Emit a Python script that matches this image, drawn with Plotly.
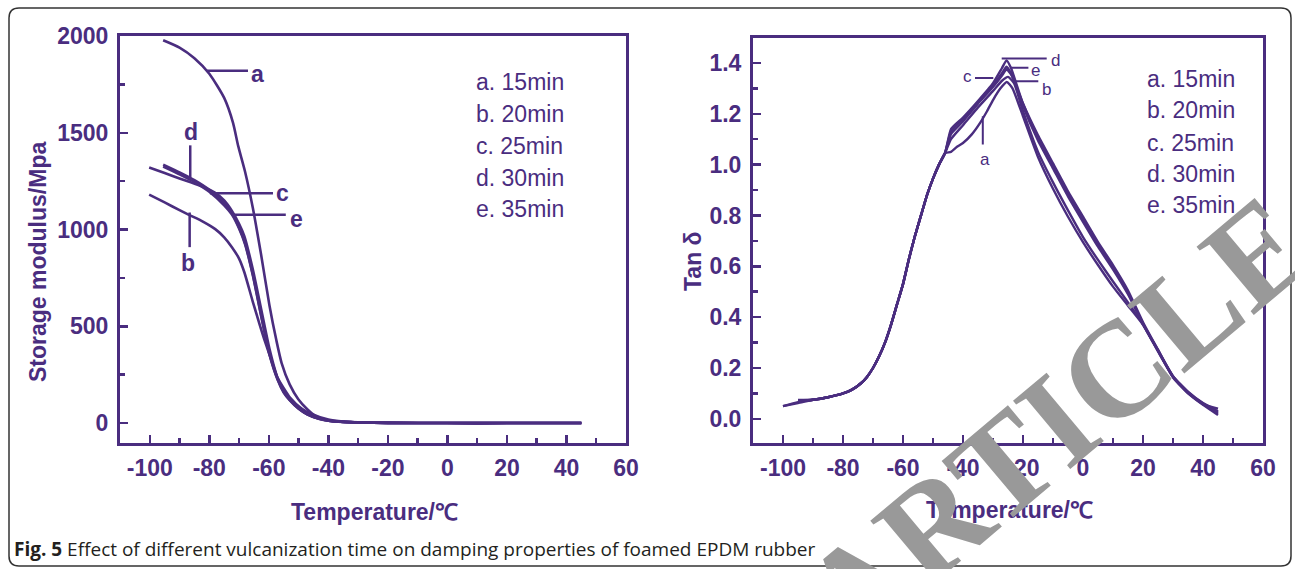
import plotly.graph_objects as go

PURPLE = "#4a2d7f"
W, H = 1295, 569

# ---------------- Storage modulus (left panel) ----------------
temp_mod_a = [-95.5, -90, -85, -80, -75, -72, -70.3, -68, -65.4, -62.6, -59.8, -57.5, -55.7, -53, -50.1, -47, -44.5, -40, -35, -30, -20, 0, 20, 45]
mod_a = [1978, 1940, 1885, 1805, 1680, 1550, 1432, 1300, 1114, 871, 609, 430, 310, 200, 123, 70, 39, 15, 6, 3, 1, 0, 0, 0]

temp_mod_b = [-100.2, -95, -90, -87, -82, -78, -75, -72.4, -70, -68.2, -65.4, -63, -61.3, -59, -57.1, -55, -52.9, -49, -45.9, -40, -35, -30, -20, 0, 20, 45]
mod_b = [1180, 1140, 1100, 1077, 1040, 1002, 960, 909, 850, 778, 628, 505, 422, 320, 235, 180, 132, 75, 48, 18, 8, 4, 1, 0, 0, 0]

temp_mod_c = [-100.2, -95, -90, -87, -82, -78, -75, -72.4, -70, -68.2, -65.4, -62.6, -59.8, -57.1, -55, -52.9, -50, -47.3, -43, -39, -35, -30, -20, 0, 20, 45]
mod_c = [1320, 1292, 1264, 1248, 1220, 1189, 1150, 1096, 1030, 965, 796, 591, 385, 235, 170, 123, 78, 48, 22, 10, 6, 3, 1, 0, 0, 0]

temp_mod_d = [-95.5, -90, -85, -80, -75, -72, -70, -68, -65.4, -62.6, -59.8, -57, -55, -53, -50, -47, -43, -40, -35, -30, -20, 0, 20, 45]
mod_d = [1335, 1295, 1255, 1205, 1135, 1075, 1010, 930, 770, 560, 360, 225, 160, 120, 75, 45, 22, 12, 6, 3, 1, 0, 0, 0]

temp_mod_e = [-95.5, -90, -85, -80, -75, -72.4, -70, -68, -65.4, -62.6, -59.8, -57, -55, -53, -50, -47, -43, -40, -35, -30, -20, 0, 20, 45]
mod_e = [1325, 1285, 1245, 1195, 1125, 1077, 1005, 925, 765, 555, 355, 222, 158, 118, 74, 44, 21, 12, 6, 3, 1, 0, 0, 0]

# ---------------- Tan delta (right panel) ----------------
rise_t = [-90, -85, -80, -77, -74, -72, -70, -68, -66, -64, -62, -60, -58, -56, -54, -52, -50, -48, -46]
rise_v = [0.075, 0.085, 0.1, 0.115, 0.14, 0.165, 0.2, 0.245, 0.3, 0.37, 0.45, 0.53, 0.63, 0.72, 0.8, 0.88, 0.945, 1.0, 1.045]

temp_tan_a = [-100, -95] + rise_t + [-44, -42, -40, -37, -34.3, -32, -29.9, -27.5, -25.4, -23.5, -20, -15, -10, -5, 0, 5, 10, 15, 20, 25, 30, 35, 40, 45]
tan_a = [0.05, 0.062] + rise_v + [1.05, 1.07, 1.085, 1.12, 1.164, 1.21, 1.256, 1.30, 1.325, 1.30, 1.19, 1.03, 0.905, 0.795, 0.695, 0.605, 0.52, 0.445, 0.37, 0.265, 0.165, 0.1, 0.055, 0.015]

temp_tan_b = [-95] + rise_t + [-44, -40, -35, -30, -27, -25, -23, -20, -15, -10, -5, 0, 5, 10, 15, 20, 25, 30, 35, 40, 45]
tan_b = [0.072] + rise_v + [1.10, 1.155, 1.225, 1.29, 1.33, 1.345, 1.32, 1.21, 1.05, 0.93, 0.82, 0.715, 0.625, 0.54, 0.458, 0.372, 0.268, 0.168, 0.102, 0.058, 0.02]

temp_tan_c = [-100, -95] + rise_t + [-44, -40, -35, -30, -27, -25.5, -24, -22, -20, -15, -10, -5, 0, 5, 10, 15, 20, 25, 30, 35, 40, 45]
tan_c = [0.05, 0.066] + rise_v + [1.13, 1.18, 1.245, 1.31, 1.36, 1.385, 1.36, 1.30, 1.24, 1.115, 1.005, 0.895, 0.795, 0.695, 0.605, 0.505, 0.38, 0.272, 0.168, 0.107, 0.062, 0.03]

temp_tan_d = [-95] + rise_t + [-44, -40, -35, -30, -27, -25.5, -24, -22, -20, -15, -10, -5, 0, 5, 10, 15, 20, 25, 30, 35, 40, 45]
tan_d = [0.074] + rise_v + [1.14, 1.185, 1.25, 1.32, 1.38, 1.41, 1.38, 1.31, 1.24, 1.105, 0.995, 0.885, 0.785, 0.685, 0.595, 0.495, 0.375, 0.27, 0.165, 0.105, 0.06, 0.025]

temp_tan_e = [-95] + rise_t + [-44, -40, -35, -30, -27, -25.5, -24, -22, -20, -15, -10, -5, 0, 5, 10, 15, 20, 25, 30, 35, 40, 45]
tan_e = [0.07] + rise_v + [1.12, 1.17, 1.24, 1.305, 1.35, 1.375, 1.355, 1.30, 1.23, 1.095, 0.985, 0.875, 0.775, 0.677, 0.588, 0.49, 0.372, 0.268, 0.163, 0.103, 0.058, 0.04]

legend_labels = ["a. 15min", "b. 20min", "c. 25min", "d. 30min", "e. 35min"]
x_ticks = [-100, -80, -60, -40, -20, 0, 20, 40, 60]
x_tick_text = ["-100", "-80", "-60", "-40", "-20", "0", "20", "40", "60"]
mod_ticks = [0, 500, 1000, 1500, 2000]
tan_ticks = [0.0, 0.2, 0.4, 0.6, 0.8, 1.0, 1.2, 1.4]


def px(x):
    return x / W


def py(y):
    return 1 - y / H


fig = go.Figure()
for t, v in [(temp_mod_a, mod_a), (temp_mod_b, mod_b), (temp_mod_c, mod_c), (temp_mod_d, mod_d), (temp_mod_e, mod_e)]:
    fig.add_trace(go.Scatter(x=t, y=v, mode="lines", line=dict(color=PURPLE, width=2.6, shape="spline", smoothing=0.6),
                             xaxis="x", yaxis="y", showlegend=False, hoverinfo="skip"))
for t, v in [(temp_tan_a, tan_a), (temp_tan_b, tan_b), (temp_tan_c, tan_c), (temp_tan_d, tan_d), (temp_tan_e, tan_e)]:
    fig.add_trace(go.Scatter(x=t, y=v, mode="lines", line=dict(color=PURPLE, width=2.4, shape="spline", smoothing=0.5),
                             xaxis="x2", yaxis="y2", showlegend=False, hoverinfo="skip"))

tickfont = dict(family="Liberation Sans, Arial, sans-serif", size=23, color=PURPLE, weight="bold")
common_x = dict(range=[-110, 60], tickvals=x_ticks, ticktext=x_tick_text, ticks="inside", ticklen=8, tickwidth=2.5,
                tickcolor=PURPLE,
                minor=dict(ticks="inside", ticklen=5, tickwidth=2.5, tickcolor=PURPLE, dtick=10, tick0=0),
                showline=True, linewidth=3, linecolor=PURPLE, mirror=True, showgrid=False, zeroline=False,
                tickfont=tickfont, ticklabelstandoff=2, automargin=False)
common_y = dict(ticks="inside", ticklen=8, tickwidth=2.5, tickcolor=PURPLE,
                showline=True, linewidth=3, linecolor=PURPLE, mirror=True, showgrid=False, zeroline=False,
                tickfont=tickfont, ticklabelstandoff=4, automargin=False)

fig.update_layout(
    width=W, height=H, margin=dict(l=0, r=0, t=0, b=0, pad=0, autoexpand=False),
    paper_bgcolor="white", plot_bgcolor="white",
    xaxis=dict(domain=[px(120), px(626)], anchor="y", **common_x),
    yaxis=dict(domain=[py(443), py(36)], anchor="x", range=[-103, 2000], tickvals=mod_ticks,
               minor=dict(ticks="inside", ticklen=5, tickwidth=2.5, tickcolor=PURPLE, dtick=250, tick0=0), **common_y),
    xaxis2=dict(domain=[px(753), px(1263)], anchor="y2", **common_x),
    yaxis2=dict(domain=[py(443), py(37.5)], anchor="x2", range=[-0.095, 1.5], tickvals=tan_ticks, tickformat=".1f",
                minor=dict(ticks="inside", ticklen=5, tickwidth=2.5, tickcolor=PURPLE, dtick=0.1, tick0=0), **common_y),
)

ann = []
titlefont = dict(family="Liberation Sans, Arial, sans-serif", size=23, color=PURPLE, weight="bold")
ann.append(dict(text="Storage modulus/Mpa", xref="paper", yref="paper", x=px(38), y=py(262), textangle=-90,
                showarrow=False, font=titlefont, xanchor="center", yanchor="middle"))
ann.append(dict(text="Tan δ", xref="paper", yref="paper", x=px(693), y=py(261), textangle=-90,
                showarrow=False, font=titlefont, xanchor="center", yanchor="middle"))
ann.append(dict(text="Temperature/℃", xref="paper", yref="paper", x=px(375), y=py(512),
                showarrow=False, font=titlefont, xanchor="center", yanchor="middle"))
ann.append(dict(text="Temperature/℃", xref="paper", yref="paper", x=px(1009), y=py(510),
                showarrow=False, font=titlefont, xanchor="center", yanchor="middle"))

legfont = dict(family="Liberation Sans, Arial, sans-serif", size=23, color=PURPLE)
left_leg_y = [1760, 1595, 1430, 1265, 1105]
right_leg_y = [1.335, 1.213, 1.087, 0.965, 0.843]
for lab, yv in zip(legend_labels, left_leg_y):
    ann.append(dict(text=lab, x=8.9, y=yv, xref="x", yref="y", showarrow=False, xanchor="left", yanchor="middle", font=legfont))
for lab, yv in zip(legend_labels, right_leg_y):
    ann.append(dict(text=lab, x=20.7, y=yv, xref="x2", yref="y2", showarrow=False, xanchor="left", yanchor="middle", font=legfont))

# curve letters, left
lblfont = dict(family="Liberation Sans, Arial, sans-serif", size=23, color=PURPLE, weight="bold")
for txt, xv, yv in [("a", -63.7, 1804), ("d", -86.2, 1505), ("c", -55.3, 1190), ("e", -50.6, 1052), ("b", -87, 825)]:
    ann.append(dict(text=txt, x=xv, y=yv, xref="x", yref="y", showarrow=False, font=lblfont, xanchor="center", yanchor="middle"))
# curve letters, right
lblfont2 = dict(family="Liberation Sans, Arial, sans-serif", size=17, color=PURPLE)
for txt, xv, yv in [("d", -9.3, 1.41), ("e", -15.8, 1.37), ("c", -38.4, 1.345), ("b", -12.1, 1.297), ("a", -32.8, 1.02)]:
    ann.append(dict(text=txt, x=xv, y=yv, xref="x2", yref="y2", showarrow=False, font=lblfont2, xanchor="center", yanchor="middle"))

ann.append(dict(text="<b>Fig. 5</b> Effect of different vulcanization time on damping properties of foamed EPDM rubber",
                xref="paper", yref="paper", x=px(12), y=py(549), xanchor="left", yanchor="middle", showarrow=False,
                font=dict(family="Open Sans, Noto Sans, sans-serif", size=19, color="#231f20")))

ann.append(dict(text="ARTICLE", xref="paper", yref="paper", x=px(1056), y=py(421), textangle=-40, showarrow=False,
                xanchor="center", yanchor="middle",
                font=dict(family="Liberation Serif, Times New Roman, serif", size=136, color="#999999", weight="bold")))
fig.update_layout(annotations=ann)

shapes = []
lw = dict(color=PURPLE, width=2.5)
for x0, y0, x1, y1 in [(-80.9, 1820, -67, 1820), (-86.4, 1435, -86.4, 1270), (-79.8, 1187, -58.6, 1187),
                       (-72.4, 1077, -54.3, 1077), (-86.6, 1088, -86.6, 909)]:
    shapes.append(dict(type="line", xref="x", yref="y", x0=x0, y0=y0, x1=x1, y1=y1, line=lw))
lw2 = dict(color=PURPLE, width=2)
for x0, y0, x1, y1 in [(-27.1, 1.417, -12.1, 1.417), (-24.3, 1.381, -18.2, 1.381), (-36, 1.341, -29.9, 1.341),
                       (-23.2, 1.328, -14.9, 1.328), (-33.4, 1.19, -33.4, 1.079)]:
    shapes.append(dict(type="line", xref="x2", yref="y2", x0=x0, y0=y0, x1=x1, y1=y1, line=lw2))

# rounded outer frame
x0, y0, x1, y1, r = 9, 8, 1291, 566, 10
path = (f"M {px(x0 + r)},{py(y0)} L {px(x1 - r)},{py(y0)} Q {px(x1)},{py(y0)} {px(x1)},{py(y0 + r)} "
        f"L {px(x1)},{py(y1 - r)} Q {px(x1)},{py(y1)} {px(x1 - r)},{py(y1)} "
        f"L {px(x0 + r)},{py(y1)} Q {px(x0)},{py(y1)} {px(x0)},{py(y1 - r)} "
        f"L {px(x0)},{py(y0 + r)} Q {px(x0)},{py(y0)} {px(x0 + r)},{py(y0)} Z")
shapes.append(dict(type="path", xref="paper", yref="paper", path=path, line=dict(color="#333333", width=1.5), layer="below"))
fig.update_layout(shapes=shapes)

fig.write_html("out.html", config={"displayModeBar": False, "staticPlot": True},
               post_script="document.body.style.margin='0px';document.body.style.overflow='hidden';"
                           "document.documentElement.style.overflow='hidden';")
